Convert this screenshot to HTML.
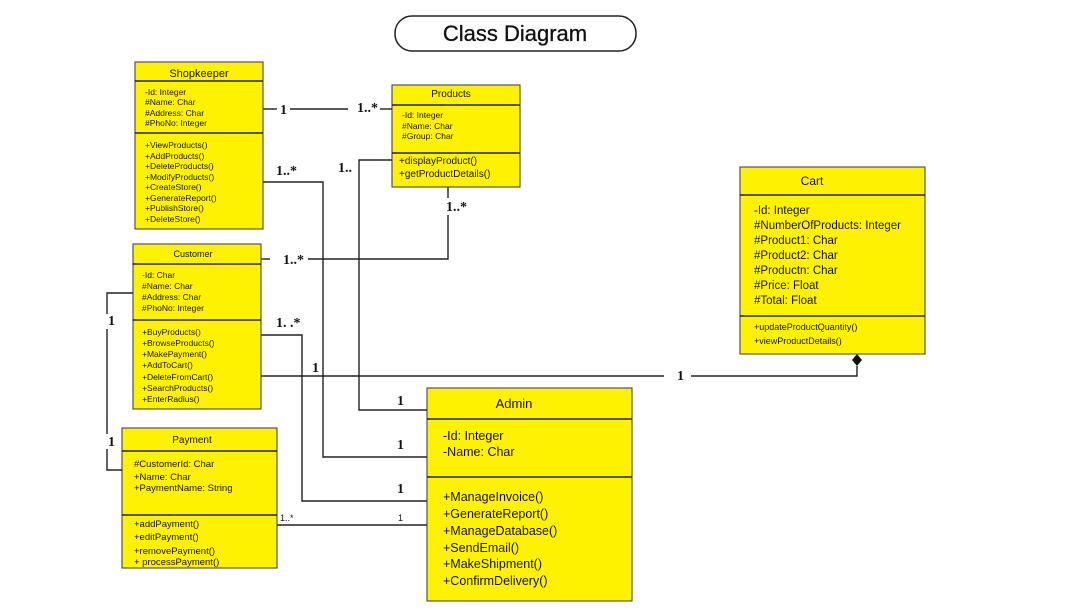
<!DOCTYPE html>
<html><head><meta charset="utf-8"><style>
html,body{margin:0;padding:0;background:#fff;width:1083px;height:612px;overflow:hidden}
svg{display:block}
.c{font-family:"Liberation Sans",sans-serif;fill:#111}
.b{font-family:"Liberation Serif",serif;font-weight:bold;fill:#111}
</style></head><body>
<svg width="1083" height="612" viewBox="0 0 1083 612" xmlns="http://www.w3.org/2000/svg">
<g fill="none" stroke="#222" stroke-width="1.5">
<rect x="395" y="16" width="241" height="35" rx="17" fill="#fff"/>
</g>
<text class="c" x="515" y="41" font-size="22" text-anchor="middle" stroke="#111" stroke-width="0.3">Class Diagram</text>

<g fill="#fff200" stroke="#555" stroke-width="1.2">
<rect x="135" y="62" width="128" height="167"/>
<rect x="392" y="85" width="128" height="102"/>
<rect x="133" y="244" width="128" height="165"/>
<rect x="122" y="428" width="155" height="140"/>
<rect x="427" y="388" width="205" height="213"/>
<rect x="740" y="167" width="185" height="187"/>
</g>
<g stroke="#222" stroke-width="1.5">
<line x1="135" y1="81" x2="263" y2="81"/><line x1="135" y1="133" x2="263" y2="133"/>
<line x1="392" y1="105" x2="520" y2="105"/><line x1="392" y1="153" x2="520" y2="153"/>
<line x1="133" y1="264" x2="261" y2="264"/><line x1="133" y1="320" x2="261" y2="320"/>
<line x1="122" y1="451" x2="277" y2="451"/><line x1="122" y1="515" x2="277" y2="515"/>
<line x1="427" y1="419" x2="632" y2="419"/><line x1="427" y1="477" x2="632" y2="477"/>
<line x1="740" y1="195" x2="925" y2="195"/><line x1="740" y1="316" x2="925" y2="316"/>
</g>
<g fill="none" stroke="#222" stroke-width="1.4">
<polyline points="263,109 277,109"/><polyline points="290,109 348,109"/><polyline points="380,109 392,109"/>
<polyline points="263,182 323,182 323,457 427,457"/>
<polyline points="392,160 359,160 359,410 427,410"/>
<polyline points="448,187 448,198"/><polyline points="448,215 448,259 308,259"/><polyline points="261,259 270,259"/>
<polyline points="261,335 302,335 302,501 427,501"/>
<polyline points="261,376 664,376"/><polyline points="691,376 857,376 857,366"/>
<polyline points="133,293 107,293 107,314"/><polyline points="107,329 107,434"/><polyline points="107,449 107,470 122,470"/>
<polyline points="277,525 427,525"/>
</g>
<polygon points="857,354 862,360 857,366 852,360" fill="#111"/>

<g class="b" font-size="14">
<text x="280" y="114">1</text><text x="357" y="112">1..*</text>
<text x="276" y="175">1..*</text><text x="338" y="172">1..</text>
<text x="446" y="211">1..*</text><text x="283" y="264">1..*</text>
<text x="276" y="327">1. .*</text><text x="312" y="372">1</text>
<text x="677" y="380">1</text>
<text x="108" y="325">1</text><text x="108" y="446">1</text>
<text x="397" y="405">1</text><text x="397" y="449">1</text><text x="397" y="493">1</text>
</g>
<text class="c" x="280" y="521" font-size="9">1..*</text>
<text class="c" x="398" y="521" font-size="9">1</text>

<g class="c">
<text x="199" y="77" font-size="11" text-anchor="middle">Shopkeeper</text>
<g font-size="8.5"><text x="145" y="95">-Id: Integer</text><text x="145" y="105">#Name: Char</text><text x="145" y="116">#Address: Char</text><text x="145" y="126">#PhoNo: Integer</text>
<text x="145" y="148">+ViewProducts()</text><text x="145" y="159">+AddProducts()</text><text x="145" y="169">+DeleteProducts()</text><text x="145" y="180">+ModifyProducts()</text><text x="145" y="190">+CreateStore()</text><text x="145" y="201">+GenerateReport()</text><text x="145" y="211">+PublishStore()</text><text x="145" y="222">+DeleteStore()</text></g>

<text x="451" y="97" font-size="10" text-anchor="middle">Products</text>
<g font-size="8.5"><text x="402" y="118">-Id: Integer</text><text x="402" y="129">#Name: Char</text><text x="402" y="139">#Group: Char</text></g>
<g font-size="10"><text x="399" y="164">+displayProduct()</text><text x="399" y="177">+getProductDetails()</text></g>

<text x="193" y="257" font-size="9" text-anchor="middle">Customer</text>
<g font-size="8.5"><text x="142" y="278">-Id: Char</text><text x="142" y="289">#Name: Char</text><text x="142" y="300">#Address: Char</text><text x="142" y="311">#PhoNo: Integer</text>
<text x="142" y="335">+BuyProducts()</text><text x="142" y="346">+BrowseProducts()</text><text x="142" y="357">+MakePayment()</text><text x="142" y="368">+AddToCart()</text><text x="142" y="380">+DeleteFromCart()</text><text x="142" y="391">+SearchProducts()</text><text x="142" y="402">+EnterRadius()</text></g>

<text x="192" y="443" font-size="10" text-anchor="middle">Payment</text>
<g font-size="9.5"><text x="134" y="467">#CustomerId: Char</text><text x="134" y="480">+Name: Char</text><text x="134" y="491">+PaymentName: String</text>
<text x="134" y="527">+addPayment()</text><text x="134" y="540">+editPayment()</text><text x="134" y="554">+removePayment()</text><text x="134" y="565">+ processPayment()</text></g>

<text x="514" y="408" font-size="13" text-anchor="middle">Admin</text>
<g font-size="12.5"><text x="443" y="440">-Id: Integer</text><text x="443" y="456">-Name: Char</text>
<text x="443" y="501">+ManageInvoice()</text><text x="443" y="518">+GenerateReport()</text><text x="443" y="535">+ManageDatabase()</text><text x="443" y="552">+SendEmail()</text><text x="443" y="568">+MakeShipment()</text><text x="443" y="585">+ConfirmDelivery()</text></g>

<text x="812" y="185" font-size="12" text-anchor="middle">Cart</text>
<g font-size="11.5"><text x="754" y="214">-Id: Integer</text><text x="754" y="229">#NumberOfProducts: Integer</text><text x="754" y="244">#Product1: Char</text><text x="754" y="259">#Product2: Char</text><text x="754" y="274">#Productn: Char</text><text x="754" y="289">#Price: Float</text><text x="754" y="304">#Total: Float</text></g>
<g font-size="9"><text x="754" y="330">+updateProductQuantity()</text><text x="754" y="344">+viewProductDetails()</text></g>
</g>
</svg>
</body></html>
